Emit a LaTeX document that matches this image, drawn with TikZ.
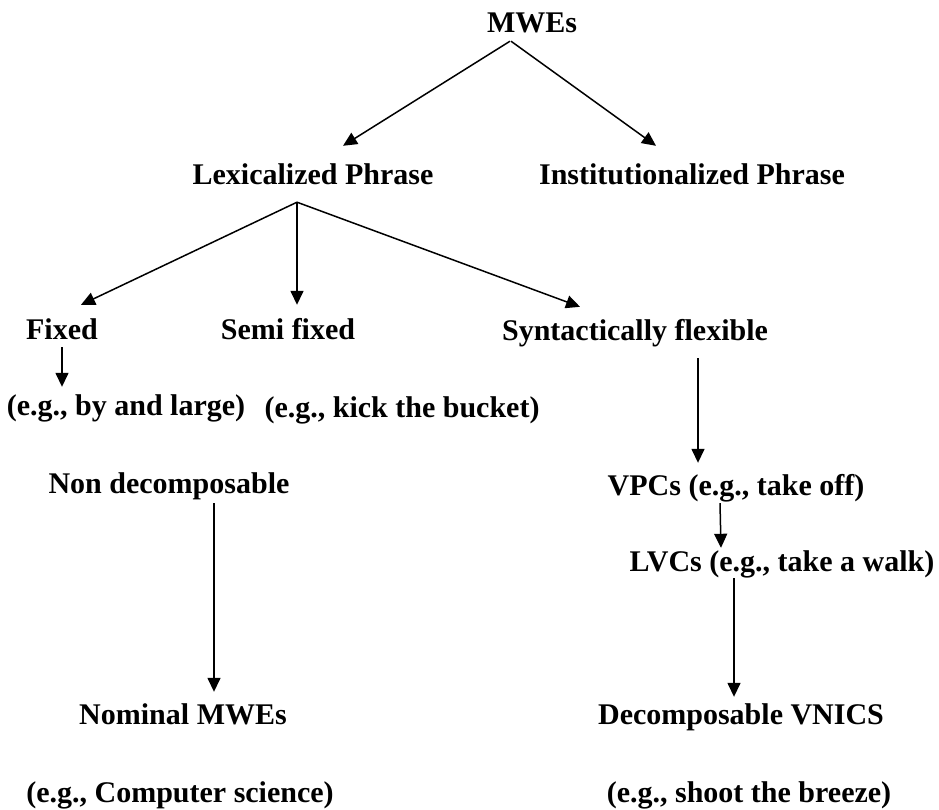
\documentclass[tikz,border=0pt]{standalone}
\usepackage{fontspec}
\setmainfont{Liberation Serif}
\usetikzlibrary{arrows.meta,calc}
\begin{document}
\begin{tikzpicture}[x=1pt,y=-1pt,
  lbl/.style={anchor=base,inner sep=0pt,text height=20pt,text depth=7pt,
    font=\fontsize{30}{36}\selectfont\bfseries},
  arr/.style={line width=1.5pt,-{Triangle[length=14pt,width=13pt]}}]
\useasboundingbox[fill=white] (0,0) rectangle (939,810);
\node[lbl] (mwe) at (532,33) {MWEs};
\node[lbl] (lex) at (313,185) {Lexicalized Phrase};
\node[lbl] (inst) at (692,185) {Institutionalized Phrase};
\node[lbl] (fixed) at (62,339) {Fixed};
\node[lbl] (semi) at (288,339) {Semi fixed};
\node[lbl] (syn) at (635,340) {Syntactically flexible};
\node[lbl] (eg1) at (126,415) {(e.g., by and large)};
\node[lbl] (eg2) at (402,417) {(e.g., kick the bucket)};
\node[lbl] (non) at (169,493) {Non decomposable};
\node[lbl] (vpc) at (736,495) {VPCs (e.g., take off)};
\node[lbl] (lvc) at (782,571) {LVCs (e.g., take a walk)};
\node[lbl] (nom) at (183,724) {Nominal MWEs};
\node[lbl] (dec) at (741,724) {Decomposable VNICS};
\node[lbl] (eg3) at (180,802) {(e.g., Computer science)};
\node[lbl] (eg4) at (749,802) {(e.g., shoot the breeze)};
\draw[arr] ($(mwe.south)+(-22,1)$) -- ($(lex.north)+(30,-19)$);
\draw[arr] ($(mwe.south)+(-21,1)$) -- ($(inst.north)+(-36,-19)$);
\draw[arr] ($(lex.south)+(-16,10)$) -- ($(fixed.north)+(19,-14)$);
\draw[arr] ($(lex.south)+(-16,10)$) -- ($(semi.north)+(9,-14)$);
\draw[arr] ($(lex.south)+(-16,10)$) -- ($(syn.north)+(-55,-13)$);
\draw[arr] ($(fixed.south)+(0,1)$) -- ($(eg1.north)+(-64,-8)$);
\draw[arr] ($(syn.south)+(63,11)$) -- ($(vpc.north)+(-38,-12)$);
\draw[arr] ($(vpc.south)+(-16,1)$) -- ($(lvc.north)+(-61,-3)$);
\draw[arr] ($(lvc.south)+(-48,0)$) -- ($(dec.north)+(-7,-7)$);
\draw[arr] ($(non.south)+(45,3)$) -- ($(nom.north)+(31,-12)$);
\end{tikzpicture}
\end{document}
